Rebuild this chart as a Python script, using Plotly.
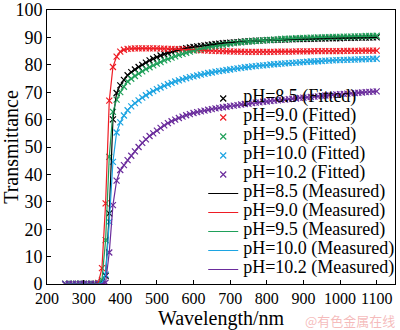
import plotly.graph_objects as go

wavelength = list(range(250, 1101, 10))

ph_labels = ["8.5", "9.0", "9.5", "10.0", "10.2"]
colors = ["#000000", "#ee1c24", "#1fa05a", "#1ca4e2", "#6a2c9c"]

t_ph85 = [0, 0, 0, 0, 0, 0, 0, 0, 0, 0.2,
          0.8, 3, 25.8, 60.1, 69.7, 72.5, 74.5, 76.2, 77.3, 78.3,
          79.2, 80, 80.8, 81.6, 82.2, 82.8, 83.4, 83.9, 84.3, 84.7,
          85.1, 85.5, 85.8, 86.1, 86.3, 86.5, 86.7, 86.9, 87.1, 87.3,
          87.4, 87.6, 87.7, 87.9, 88, 88.1, 88.2, 88.3, 88.4, 88.5,
          88.6, 88.7, 88.8, 88.8, 88.9, 89, 89, 89.1, 89.1, 89.2,
          89.2, 89.3, 89.3, 89.4, 89.4, 89.4, 89.5, 89.5, 89.5, 89.6,
          89.6, 89.6, 89.7, 89.7, 89.7, 89.7, 89.8, 89.8, 89.8, 89.8,
          89.9, 89.9, 89.9, 89.9, 90, 90]
t_ph90 = [0, 0, 0, 0, 0, 0, 0, 0, 0, 0.4,
          5.8, 29.4, 66.9, 79.2, 83, 84.8, 85.5, 85.8, 85.9, 86,
          86, 86, 86, 86, 86, 86, 85.9, 85.9, 85.8, 85.8,
          85.7, 85.7, 85.6, 85.6, 85.5, 85.5, 85.4, 85.3, 85.3, 85.2,
          85.1, 85.1, 85, 85, 84.9, 84.9, 84.8, 84.8, 84.8, 84.7,
          84.7, 84.7, 84.7, 84.7, 84.7, 84.7, 84.7, 84.7, 84.8, 84.8,
          84.8, 84.8, 84.8, 84.9, 84.9, 84.9, 84.9, 84.9, 85, 85,
          85, 85, 85, 85, 85, 85, 85.1, 85.1, 85.1, 85.1,
          85.1, 85.2, 85.2, 85.2, 85.2, 85.2]
t_ph95 = [0, 0, 0, 0, 0, 0, 0, 0, 0, 0,
          1.5, 16, 46.4, 62.8, 67.3, 70, 72, 73.9, 74.9, 75.9,
          76.8, 77.6, 78.4, 79.1, 79.8, 80.4, 81, 81.6, 82.1, 82.6,
          83.1, 83.6, 84, 84.4, 84.8, 85.2, 85.5, 85.8, 86.1, 86.4,
          86.7, 86.9, 87.1, 87.3, 87.5, 87.7, 87.9, 88.1, 88.2, 88.4,
          88.5, 88.6, 88.7, 88.8, 88.9, 89, 89.1, 89.2, 89.3, 89.4,
          89.5, 89.5, 89.6, 89.7, 89.7, 89.8, 89.8, 89.9, 89.9, 90,
          90, 90.1, 90.1, 90.2, 90.2, 90.2, 90.3, 90.3, 90.3, 90.4,
          90.4, 90.4, 90.5, 90.5, 90.5, 90.6]
t_ph100 = [0, 0, 0, 0, 0, 0, 0, 0, 0, 0,
           0.5, 3.4, 22.7, 44.6, 55.3, 59, 61.5, 63.4, 64.8, 66,
           67, 68, 68.9, 69.7, 70.4, 71.1, 71.7, 72.3, 72.9, 73.4,
           73.9, 74.3, 74.7, 75.1, 75.5, 75.8, 76.1, 76.4, 76.7, 77,
           77.2, 77.5, 77.7, 77.9, 78.1, 78.3, 78.5, 78.7, 78.9, 79.1,
           79.2, 79.4, 79.5, 79.7, 79.8, 79.9, 80.1, 80.2, 80.3, 80.4,
           80.5, 80.6, 80.7, 80.8, 80.9, 81, 81.1, 81.2, 81.2, 81.3,
           81.4, 81.5, 81.5, 81.6, 81.7, 81.7, 81.8, 81.8, 81.9, 81.9,
           82, 82, 82.1, 82.1, 82.2, 82.2]
t_ph102 = [0, 0, 0, 0, 0, 0, 0, 0, 0, 0,
           0, 0.5, 11.5, 28.8, 37.7, 41.6, 43.4, 45.2, 46.8, 48.4,
           50, 51.5, 52.8, 54, 55, 56, 57, 57.9, 58.7, 59.4,
           60, 60.6, 61.1, 61.6, 62, 62.4, 62.7, 63, 63.3, 63.6,
           63.8, 64.1, 64.3, 64.5, 64.7, 64.9, 65.1, 65.3, 65.5, 65.7,
           65.8, 66, 66.2, 66.3, 66.5, 66.6, 66.8, 66.9, 67, 67.2,
           67.3, 67.5, 67.6, 67.7, 67.9, 68, 68.1, 68.3, 68.4, 68.5,
           68.7, 68.8, 68.9, 69, 69.2, 69.3, 69.4, 69.5, 69.6, 69.7,
           69.8, 69.9, 70, 70.1, 70.2, 70.3]

series = [t_ph85, t_ph90, t_ph95, t_ph100, t_ph102]

FONT = "Liberation Serif, Times New Roman, serif"
LEG = '<span style="font-size:18px">%s</span>'

fig = go.Figure()
for lab, col, ys in zip(ph_labels, colors, series):
    fig.add_trace(go.Scatter(
        x=wavelength, y=ys, mode="markers",
        name=LEG % f"pH={lab} (Fitted)",
        marker=dict(symbol="x-thin", size=6, color=col,
                    line=dict(width=1.2, color=col)),
    ))
for lab, col, ys in zip(ph_labels, colors, series):
    fig.add_trace(go.Scatter(
        x=wavelength, y=ys, mode="lines",
        name=LEG % f"pH={lab} (Measured)",
        line=dict(width=1.2, color=col),
    ))

fig.update_layout(
    width=400, height=330,
    margin=dict(l=47, r=5, t=10, b=46, autoexpand=False),
    paper_bgcolor="white", plot_bgcolor="white",
    font=dict(family=FONT, color="black"),
    showlegend=True,
    legend=dict(
        x=1.015, y=0.0, xanchor="right", yanchor="bottom",
        bgcolor="rgba(0,0,0,0)", font=dict(size=10, family=FONT),
        itemwidth=30, tracegroupgap=0,
    ),
    xaxis=dict(
        range=[200, 1150], tick0=200, dtick=100, tickangle=0,
        automargin=False, ticklabeloverflow="allow",
        showgrid=False, zeroline=False,
        showline=True, linecolor="black", linewidth=1, mirror=True,
        ticks="inside", ticklen=4, tickcolor="black",
        tickfont=dict(size=16, family=FONT),
        title=dict(text="Wavelength/nm", font=dict(size=20, family=FONT), standoff=0),
    ),
    yaxis=dict(
        range=[0, 100], tick0=0, dtick=10,
        automargin=False, ticklabeloverflow="allow",
        showgrid=False, zeroline=False,
        showline=True, linecolor="black", linewidth=1, mirror=True,
        ticks="inside", ticklen=4, tickcolor="black",
        tickfont=dict(size=18, family=FONT),
        title=dict(text="Transmittance", font=dict(size=20, family=FONT), standoff=2),
    ),
    annotations=[dict(
        text="@有色金属在线", xref="paper", yref="paper",
        x=1.005, y=-0.135, xanchor="right", yanchor="middle", showarrow=False,
        font=dict(size=13, family="Noto Sans CJK SC", color="rgba(235,120,120,0.5)"),
    )],
)

fig.write_html("out.html")
